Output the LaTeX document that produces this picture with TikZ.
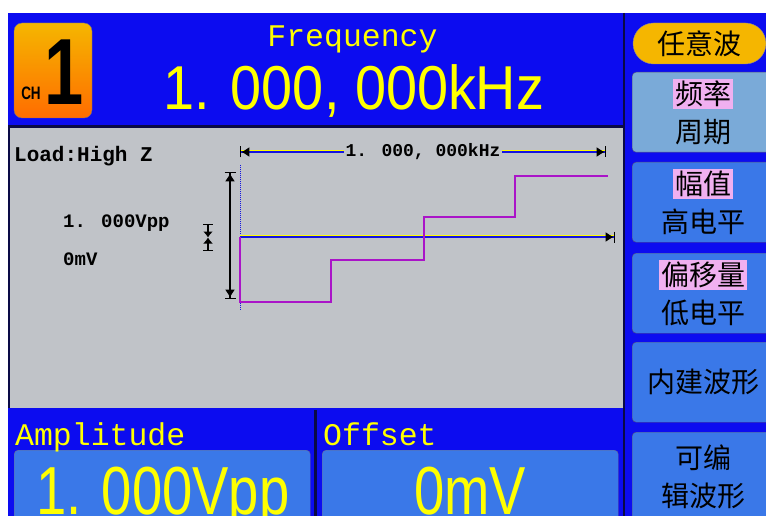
\documentclass[tikz,border=0pt]{standalone}
\usepackage{fontspec}
\usepackage{xcolor}
\usepackage{tikz}
\setmainfont{Liberation Serif}
\newfontfamily\monofont{Liberation Mono}
\newfontfamily\valuefont[FakeStretch=0.9]{Liberation Sans}
\newfontfamily\paramfont[FakeStretch=0.8]{Liberation Sans}
\newfontfamily\badgefont[FakeStretch=0.75]{Liberation Sans}
\newfontfamily\cjk{Noto Sans CJK SC}
\usetikzlibrary{positioning,calc,arrows.meta,shapes.misc}
\definecolor{screenBlue}{RGB}{12,12,240}
\definecolor{frameDark}{RGB}{10,10,70}
\definecolor{panelGray}{RGB}{192,195,200}
\definecolor{keyBlue}{RGB}{58,120,232}
\definecolor{keyLight}{RGB}{122,170,216}
\definecolor{pillOrange}{RGB}{245,182,0}
\definecolor{markPink}{RGB}{240,176,240}
\definecolor{wavePurple}{RGB}{170,20,200}
\definecolor{traceBlue}{RGB}{20,20,225}
\definecolor{lcdYellow}{RGB}{255,255,0}
\setlength{\fboxsep}{2pt}
\tikzset{
  menuKey/.style={
    rectangle,
    rounded corners=4pt,
    draw=frameDark!70,
    fill=keyBlue,
    minimum width=142pt,
    minimum height=80pt,
    anchor=north west,
    align=center,
    inner sep=0pt,
    font=\cjk\fontsize{28}{38}\selectfont
  },
  modePill/.style={
    rounded rectangle,
    draw=frameDark!50,
    fill=pillOrange,
    minimum width=133pt,
    minimum height=41pt,
    inner sep=0pt,
    font=\cjk\fontsize{28}{34}\selectfont
  },
  valueBox/.style={
    rectangle,
    rounded corners=4pt,
    draw=frameDark!60,
    fill=keyBlue,
    minimum width=296pt,
    minimum height=72pt,
    anchor=north west
  },
  captionText/.style={
    font=\monofont\fontsize{31.5}{36}\selectfont,
    text=lcdYellow,
    inner sep=0pt
  },
  bigValue/.style={
    font=\valuefont\fontsize{62}{70}\selectfont,
    text=lcdYellow,
    inner sep=0pt,
    anchor=base
  },
  paramValue/.style={
    font=\paramfont\fontsize{68}{76}\selectfont,
    text=lcdYellow,
    inner sep=0pt,
    anchor=base
  },
  chartText/.style={
    font=\monofont\bfseries\fontsize{19}{22}\selectfont,
    text=black,
    inner sep=0pt,
    anchor=base west
  },
  dimArrow/.style={
    {Bar[width=11pt,sep=0pt,color=black]Latex[length=8pt,width=10pt,sep=0pt,color=black]}-{Latex[length=8pt,width=10pt,sep=0pt,color=black]Bar[width=11pt,sep=0pt,color=black]},
    line width=1.3pt
  },
  endArrow/.style={
    -{Latex[length=8pt,width=10pt,sep=0pt,color=black]Bar[width=11pt,sep=0pt,color=black]},
    line width=1.3pt
  },
  glowLine/.style={
    lcdYellow,
    line width=1.3pt,
    transform canvas={yshift=1.3pt}
  }
}

\begin{document}
\begin{tikzpicture}[x=1pt, y=-1pt]
  \useasboundingbox (0,0) rectangle (766,516);
  \clip (0,0) rectangle (766,516);
  \fill[white] (0,0) rectangle (766,516);

  % screen areas
  \fill[screenBlue] (8,13) rectangle (766,516);
  \fill[panelGray] (8,128) rectangle (623,408);
  \draw[frameDark, line width=2.5pt] (8,126.5) -- (623,126.5);
  \draw[frameDark, line width=2pt] (8.5,128) -- (8.5,408);
  \draw[frameDark, line width=2pt] (624,13) -- (624,516);
  \draw[frameDark, line width=2.5pt] (315.5,410) -- (315.5,516);

  % header
  \node[rectangle, rounded corners=8pt, draw=frameDark!60, top color=pillOrange, bottom color=orange!85!red,
        minimum width=78pt, minimum height=95pt] (chBadge) at (53,70.5) {};
  \node[font=\badgefont\bfseries\fontsize{18}{20}\selectfont, inner sep=0pt, anchor=base] (chTag) at (31,100) {CH};
  \node[font=\badgefont\bfseries\fontsize{94}{100}\selectfont, inner sep=0pt, anchor=base] (chNum) at (64,105) {1};
  \node[captionText, anchor=base] (freqTitle) at (352.5,47) {Frequency};
  \node[bigValue] (freqValue) at (354,110) {1. 000, 000kHz};

  % right menu
  \node[modePill] (modeKey) at (699.5,43.5) {任意波};
  \node[menuKey, fill=keyLight] (freqKey) at (632,72) {\colorbox{markPink}{频率}\\周期};
  \node[menuKey] (ampKey) at (632,162) {\colorbox{markPink}{幅值}\\高电平};
  \node[menuKey] (offKey) at (632,253) {\colorbox{markPink}{偏移量}\\低电平};
  \node[menuKey] (builtinKey) at (632,342) {内建波形};
  \node[menuKey, minimum height=90pt] (arbKey) at (632,432) {可编\\辑波形};

  % chart
  \node[chartText, font=\monofont\bfseries\fontsize{21}{24}\selectfont] (loadText) at (14,162) {Load:High Z};
  \node[chartText] (vppText) at (63,227) {1. 000Vpp};
  \node[chartText] (mvText) at (63,265) {0mV};

  \coordinate (freqL) at (240,152);
  \coordinate (freqR) at (606,152);
  \coordinate (ampTop) at (230,172);
  \coordinate (ampBot) at (230,299);
  \coordinate (zeroTop) at (240,165);
  \coordinate (zeroBot) at (240,311);
  \coordinate (offL) at (240,237);
  \coordinate (offR) at (615,237);
  \coordinate (shiftTop) at (208,224);
  \coordinate (shiftMid) at (208,237.5);
  \coordinate (shiftBot) at (208,251);

  \draw[glowLine] (freqL) -- (freqR);
  \draw[dimArrow, traceBlue] (freqL) -- node[fill=panelGray, inner sep=2pt, text=black,
        font=\monofont\bfseries\fontsize{18}{20}\selectfont] (freqLabel) {1. 000, 000kHz} (freqR);
  \draw[dimArrow, black] (ampTop) -- (ampBot);
  \draw[traceBlue, densely dotted, line width=1pt] (zeroTop) -- (zeroBot);
  \draw[{Bar[width=10pt]}-{Latex[length=6pt,width=10pt]}, black, line width=1.3pt] (shiftTop) -- (shiftMid);
  \draw[{Bar[width=10pt]}-{Latex[length=6pt,width=10pt]}, black, line width=1.3pt] (shiftBot) -- (shiftMid);

  \draw[glowLine] (offL) -- (offR);
  \draw[endArrow, traceBlue] (offL) -- (offR);

  % staircase wave
  \draw[wavePurple, line width=2.6pt, line join=miter]
    (240,237) -- (240,302) -- (331,302) -- (331,260) -- (424,260)
    -- (424,217) -- (515,217) -- (515,176) -- (608,176);

  % bottom readouts
  \node[valueBox] (ampBox) at (14,450) {};
  \node[valueBox] (offBox) at (322,450) {};
  \node[captionText, anchor=base west] (ampTitle) at (15,445) {Amplitude};
  \node[captionText, anchor=base west] (offTitle) at (323,445) {Offset};
  \node[paramValue] (ampValue) at (163,514) {1. 000Vpp};
  \node[paramValue] (offValue) at (470,514) {0mV};
\end{tikzpicture}
\end{document}
